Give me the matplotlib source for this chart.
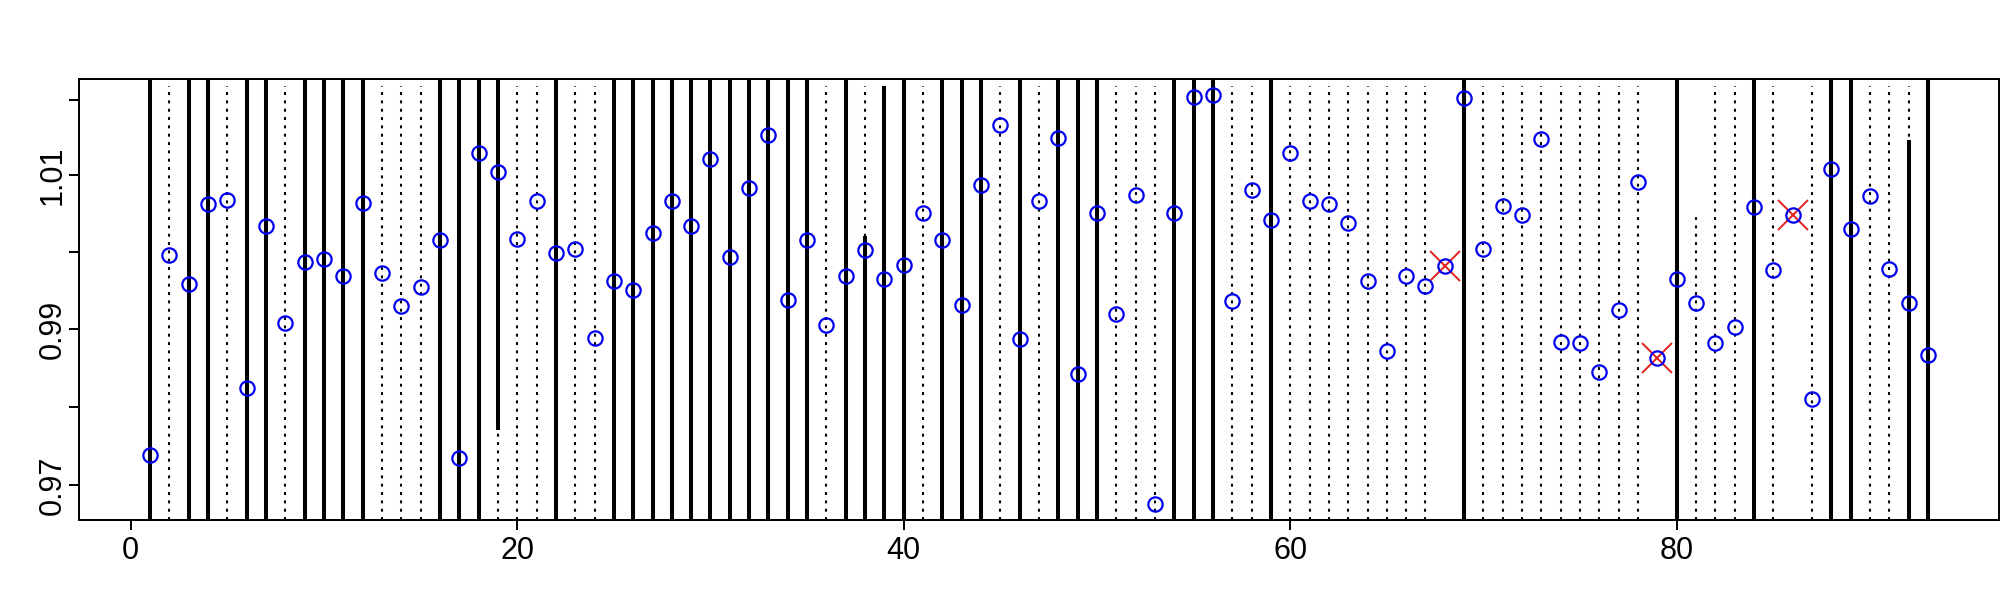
import numpy as np
import matplotlib
matplotlib.use("Agg")
import matplotlib.pyplot as plt
from matplotlib.ticker import FixedLocator, NullLocator, NullFormatter


# valores (uno por indice 1..93)
ratio = [0.9738, 0.9996, 0.9958, 1.0062, 1.0068, 0.9824, 1.0033, 0.9908, 0.9987, 0.9990,
         0.9968, 1.0064, 0.9973, 0.9929, 0.9954, 1.0016, 0.9735, 1.0129, 1.0104, 1.0017,
         1.0066, 0.9998, 1.0003, 0.9888, 0.9962, 0.9950, 1.0025, 1.0067, 1.0033, 1.0122,
         0.9993, 1.0084, 1.0154, 0.9937, 1.0016, 0.9905, 0.9968, 1.0002, 0.9964, 0.9983,
         1.0051, 1.0016, 0.9931, 1.0088, 1.0166, 0.9887, 1.0067, 1.0150, 0.9842, 1.0051,
         0.9919, 1.0074, 0.9677, 1.0051, 1.0204, 1.0206, 0.9936, 1.0081, 1.0041, 1.0129,
         1.0067, 1.0063, 1.0037, 0.9962, 0.9872, 0.9968, 0.9955, 0.9982, 1.0203, 1.0004,
         1.0060, 1.0048, 1.0148, 0.9883, 0.9882, 0.9845, 0.9924, 1.0092, 0.9862, 0.9965,
         0.9934, 0.9882, 0.9902, 1.0059, 0.9976, 1.0048, 0.9810, 1.0108, 1.0030, 1.0073,
         0.9977, 0.9934, 0.9866]

# tipo de linea vertical por indice: S = continua, D = punteada, N = ninguna
lineas = ("SDSSDSSDSS" "SSDDDSSSDD" "DSDDSSSSSS" "SSSSSDSDNS" "DSSSDSDSSS"
          "DDDSSSDDSD" "DDDDDDDNSD" "DDDDDDDDNS" "NDDSDNDSSD" "DDS")

# tramos parciales (None = hasta el borde del grafico)
tramo_x = [19, 38, 39, 81, 92]
tramo_desde = [0.97705, None, None, None, None]
tramo_hasta = [None, 1.0020, 1.0219, 1.0048, 1.0147]
tramo_tipo = ["S", "S", "S", "D", "S"]

marcados = [68, 79, 86]

tope_punteada = 1.0219
yticks = [0.97, 0.98, 0.99, 1.00, 1.01, 1.02]
yetiq = ["0.97", "", "0.99", "", "1.01", ""]
xticks = [0, 20, 40, 60, 80]


x = np.arange(1, len(ratio) + 1)
y = np.array(ratio)

# limites al estilo R (4% de margen, eje y logaritmico)
xlo = x.min() - 0.04 * (x.max() - x.min())
xhi = x.max() + 0.04 * (x.max() - x.min())
ly = np.log(y)
r = ly.max() - ly.min()
ylo = np.exp(ly.min() - 0.04 * r)
yhi = np.exp(ly.max() + 0.04 * r)

plt.rcParams["font.family"] = ["Liberation Sans", "DejaVu Sans"]

fig = plt.figure(figsize=(20, 6), dpi=100)
ax = fig.add_axes([79 / 2000, 1 - 520 / 600, 1920 / 2000, 441 / 600])

lw_solida = 2.9
lw_punto = 1.5
punteado = (0, (1.4, 2.6))

for i, t in enumerate(lineas):
    if t == "S":
        ax.plot([x[i], x[i]], [ylo, yhi], color="black", lw=lw_solida, solid_capstyle="butt", zorder=1)
    elif t == "D":
        ax.plot([x[i], x[i]], [ylo, tope_punteada], color="black", lw=lw_punto,
                linestyle=punteado, dash_capstyle="butt", zorder=1)

for xx, d, h, t in zip(tramo_x, tramo_desde, tramo_hasta, tramo_tipo):
    d = ylo if d is None else d
    h = yhi if h is None else h
    if t == "S":
        ax.plot([xx, xx], [d, h], color="black", lw=lw_solida, solid_capstyle="butt", zorder=1.5)
    else:
        ax.plot([xx, xx], [d, h], color="black", lw=lw_punto, linestyle=punteado,
                dash_capstyle="butt", zorder=1.5)

mk = np.array(marcados)
ax.plot(mk, y[mk - 1], "x", color="#e0201c", ms=22, mew=1.4, zorder=2)
ax.plot(x, y, "o", mfc="none", mec="#0000ee", ms=10.3, mew=1.6, zorder=3)

ax.set_yscale("log")
ax.set_xlim(xlo, xhi)
ax.set_ylim(ylo, yhi)
ax.yaxis.set_major_locator(FixedLocator(yticks))
ax.yaxis.set_minor_locator(NullLocator())
ax.yaxis.set_minor_formatter(NullFormatter())
ax.set_yticklabels(yetiq)
ax.set_xticks(xticks)
ax.set_xticklabels([str(v) for v in xticks])

for s in ax.spines.values():
    s.set_linewidth(1.44)
ax.tick_params(length=7.2, width=1.44, labelsize=22)
ax.tick_params(axis="x", pad=4)
ax.tick_params(axis="y", pad=1)
plt.setp(ax.get_yticklabels(), rotation=90, va="center")

fig.savefig("out.png", dpi=100)
